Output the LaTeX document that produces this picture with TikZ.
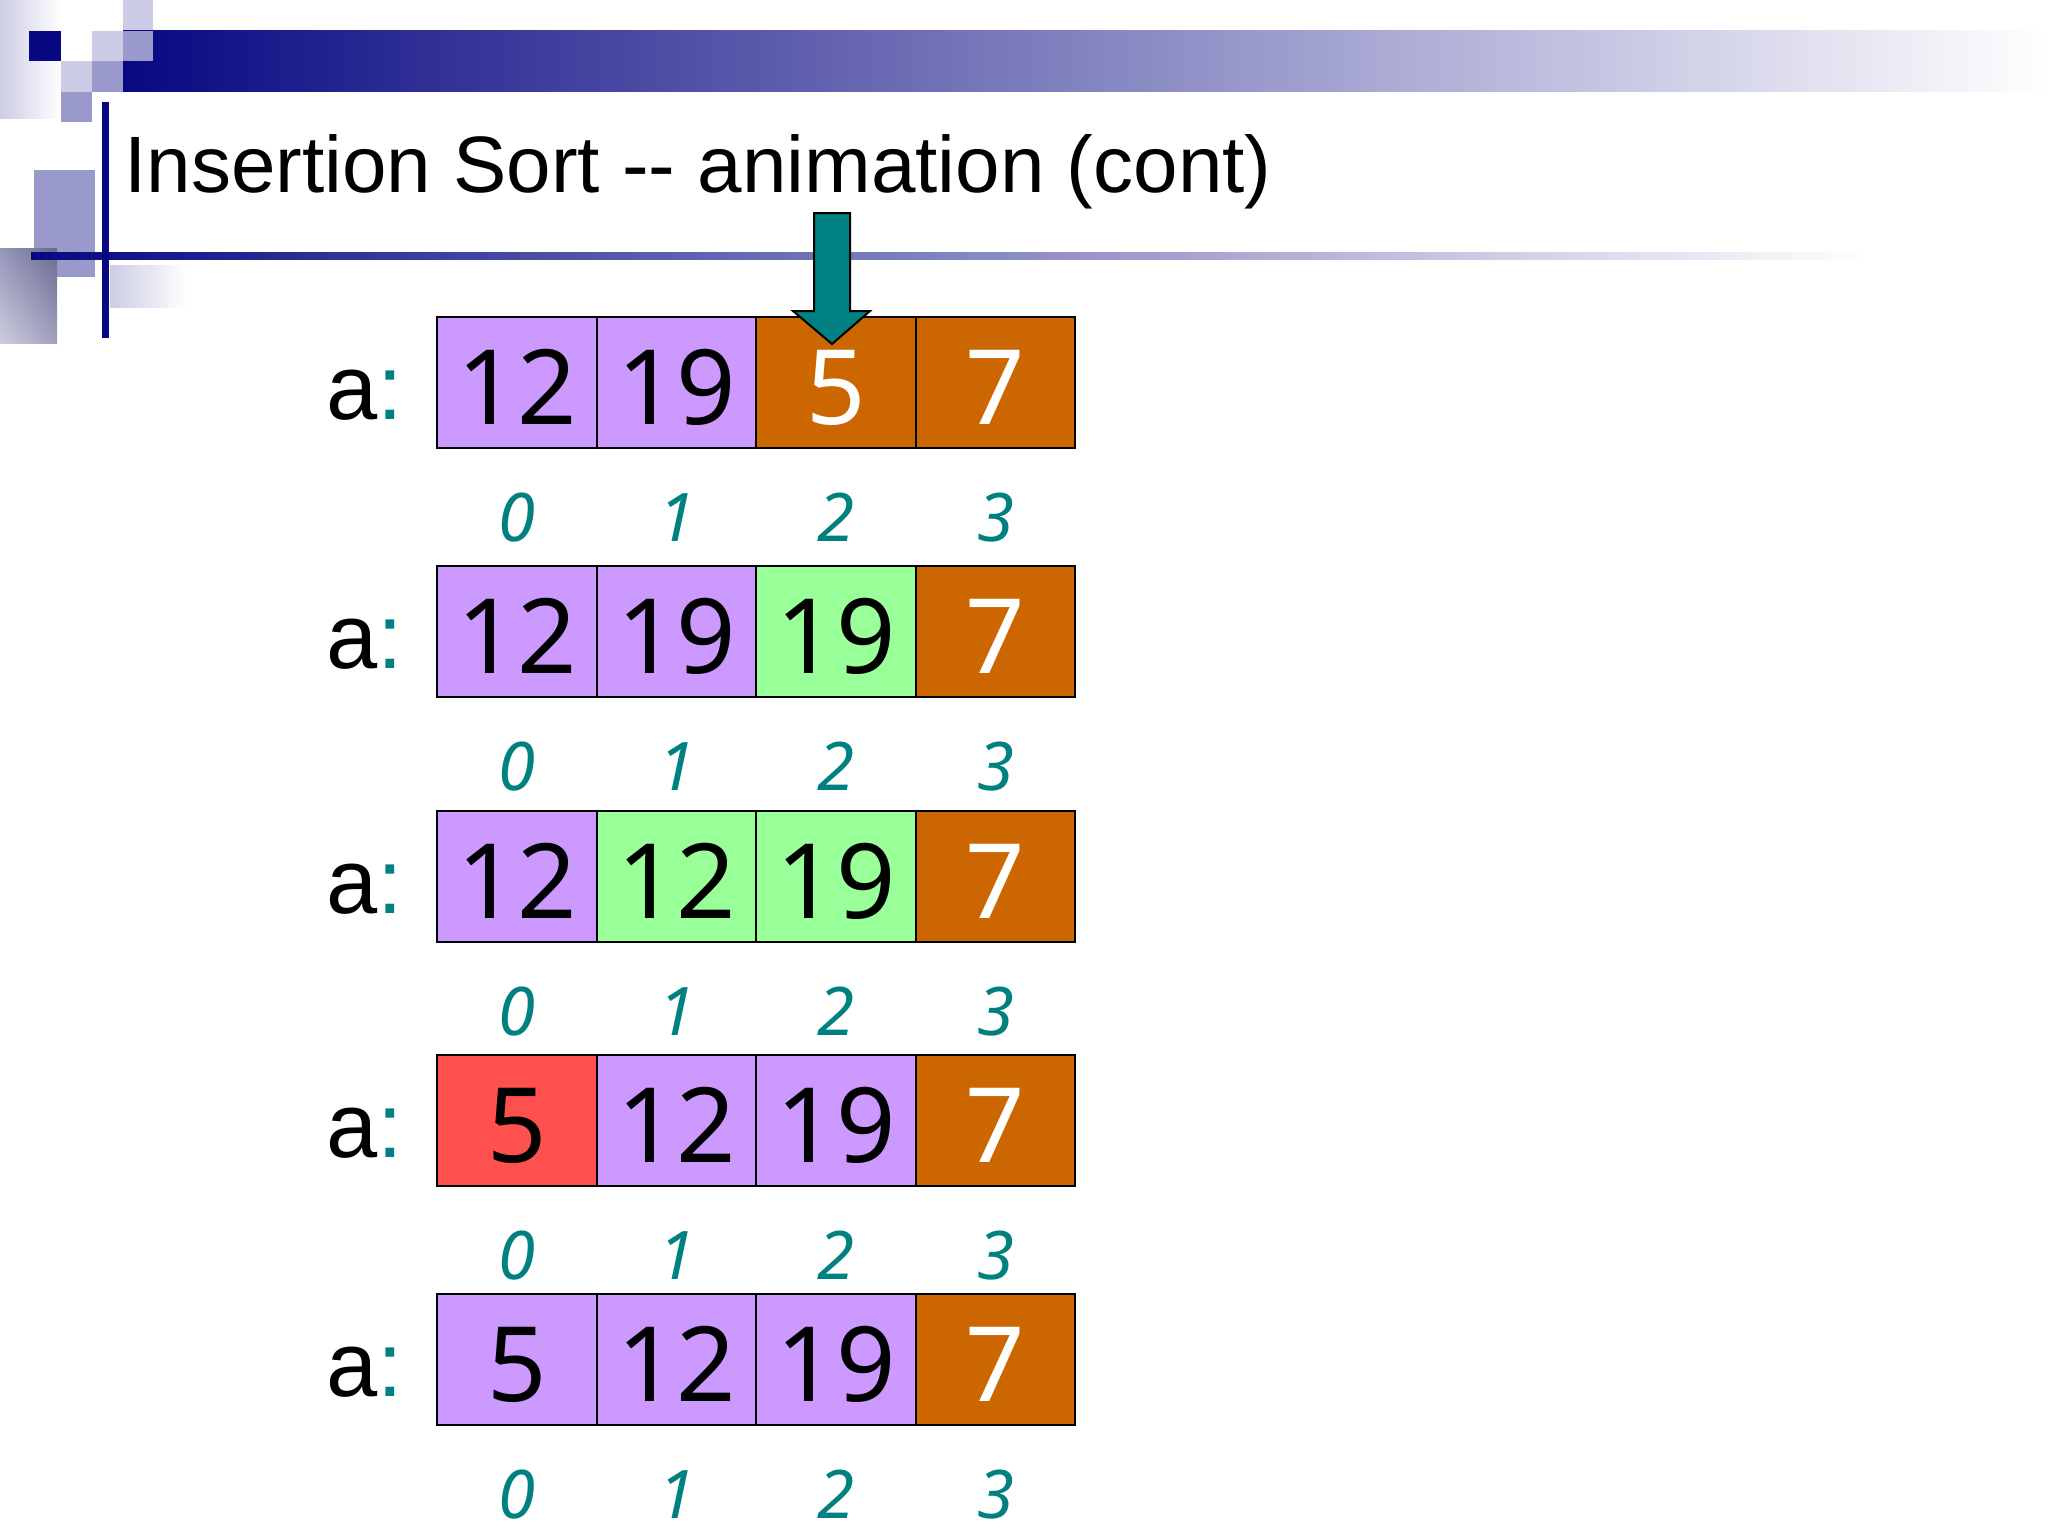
\documentclass[tikz,border=0pt]{standalone}
\usepackage{fontspec}
\setmainfont{Liberation Sans}
\newfontfamily\numfont{Noto Sans}
\usetikzlibrary{shadings}
\definecolor{navyb}{RGB}{8,8,130}
\definecolor{lavd}{RGB}{204,153,255}
\definecolor{orng}{RGB}{204,102,0}
\definecolor{grn}{RGB}{153,255,153}
\definecolor{redc}{RGB}{255,80,80}
\definecolor{tealc}{RGB}{0,128,128}
\definecolor{decolight}{RGB}{204,204,230}
\definecolor{decomed}{RGB}{153,153,204}
\definecolor{gul}{RGB}{150,150,185}
\definecolor{gur}{RGB}{105,105,145}
\definecolor{gll}{RGB}{205,205,222}
\definecolor{glr}{RGB}{160,160,190}
\newcommand\acell[6]{\node[cell, fill=#4, text=#5] (#1) at (#2,#3+65.5) {#6};}
\newcommand\arow[2]{%
  \node[lbl] (lab#1) at (326,#2+102) {a\textcolor{tealc}{:}};
  \foreach \k/\cx in {0/517,1/676.5,2/836,3/995.5}
    \node[idx] (idx#1-\k) at (\cx,#2+224) {\k};}
\begin{document}
\begin{tikzpicture}[x=0.5pt,y=-0.5pt,
  cell/.style={draw=black, line width=1.1pt, minimum width=79.75pt, minimum height=65.5pt,
    inner sep=0pt, outer sep=0pt, text height=41.5pt, text depth=0pt,
    font=\numfont\fontsize{52}{60}\selectfont},
  idx/.style={font=\numfont\itshape\fontsize{33.5}{40}\selectfont, text=tealc, anchor=base, inner sep=0pt},
  lbl/.style={font=\fontsize{46}{55}\selectfont, anchor=base west, inner sep=0pt}]
\useasboundingbox (0,0) rectangle (2048,1536);
% decoration
\shade[left color=decolight, right color=white] (0,0) rectangle (61,118);
\fill[navyb] (29,31) rectangle (61,61);
\fill[decolight] (123,0) rectangle (153,31);
\fill[decolight] (92,31) rectangle (123,61);
\shade[left color=navyb, right color=white] (123,31) rectangle (2048,92);
\fill[decomed] (123,31) rectangle (153,61);
\fill[decolight] (61,61) rectangle (92,92);
\fill[decomed] (92,61) rectangle (123,92);
\fill[decomed] (61,92) rectangle (92,122);
\fill[decomed] (34,170) rectangle (95,277);
\shade[upper left=gul, upper right=gur, lower left=gll, lower right=glr]
  (0,248) rectangle (57,343);
\shade[left color=decolight, right color=white] (110,265) rectangle (187,307);
\shade[left color=navyb, right color=white] (31,252) rectangle (1870,259);
\fill[navyb] (102,102) rectangle (109,338);
% title
\node[anchor=base west, inner sep=0pt, font=\fontsize{40}{48}\selectfont] (title) at (124,192)
  {Insertion Sort -{}- animation (cont)};
% row 1
\acell{r1c0}{517}{317}{lavd}{black}{12}
\acell{r1c1}{676.5}{317}{lavd}{black}{19}
\acell{r1c2}{836}{317}{orng}{white}{5}
\acell{r1c3}{995.5}{317}{orng}{white}{7}
\arow{1}{317}
% row 2
\acell{r2c0}{517}{566}{lavd}{black}{12}
\acell{r2c1}{676.5}{566}{lavd}{black}{19}
\acell{r2c2}{836}{566}{grn}{black}{19}
\acell{r2c3}{995.5}{566}{orng}{white}{7}
\arow{2}{566}
% row 3
\acell{r3c0}{517}{811}{lavd}{black}{12}
\acell{r3c1}{676.5}{811}{grn}{black}{12}
\acell{r3c2}{836}{811}{grn}{black}{19}
\acell{r3c3}{995.5}{811}{orng}{white}{7}
\arow{3}{811}
% row 4
\acell{r4c0}{517}{1055}{redc}{black}{5}
\acell{r4c1}{676.5}{1055}{lavd}{black}{12}
\acell{r4c2}{836}{1055}{lavd}{black}{19}
\acell{r4c3}{995.5}{1055}{orng}{white}{7}
\arow{4}{1055}
% row 5
\acell{r5c0}{517}{1294}{lavd}{black}{5}
\acell{r5c1}{676.5}{1294}{lavd}{black}{12}
\acell{r5c2}{836}{1294}{lavd}{black}{19}
\acell{r5c3}{995.5}{1294}{orng}{white}{7}
\arow{5}{1294}
% arrow
\filldraw[fill=tealc, draw=black, line width=1pt, line join=miter]
  (814,213) -- (850,213) -- (850,311) -- (870,311) -- (832,344) -- (793,311) -- (814,311) -- cycle;
\end{tikzpicture}
\end{document}
